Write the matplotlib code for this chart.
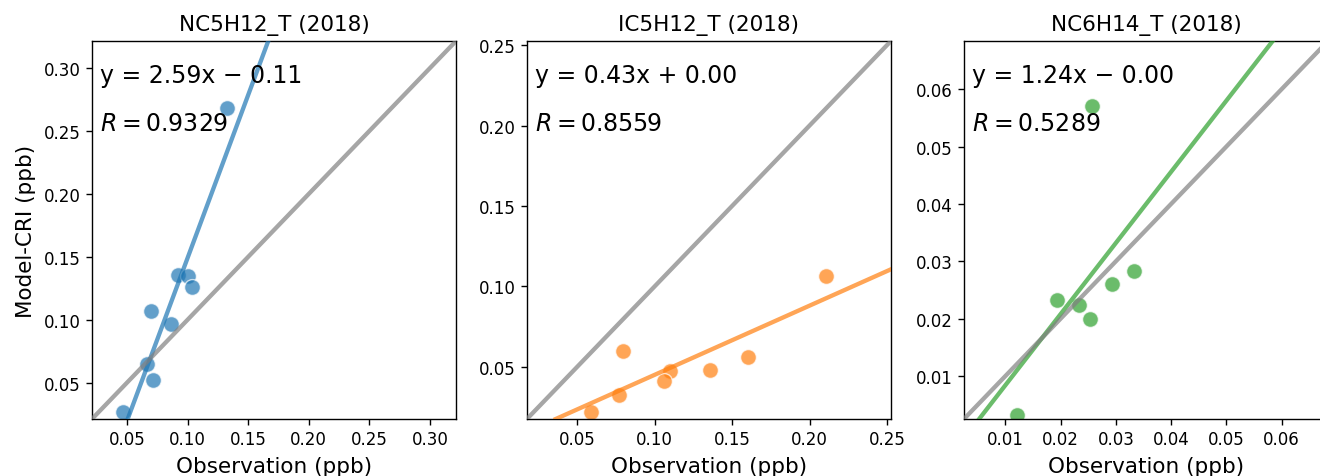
import numpy as np
import matplotlib
matplotlib.use('Agg')
import matplotlib.pyplot as plt

# values
titles = ['NC5H12_T (2018)', 'IC5H12_T (2018)', 'NC6H14_T (2018)']
colors = ['tab:blue', 'tab:orange', 'tab:green']

obs_nc5 = [0.1323, 0.0918, 0.1001, 0.1036, 0.0696, 0.0863, 0.0665, 0.0717, 0.0467]
mod_nc5 = [0.268, 0.136, 0.135, 0.126, 0.1068, 0.0967, 0.065, 0.0525, 0.0265]

obs_ic5 = [0.2105, 0.0798, 0.1603, 0.1357, 0.110, 0.1059, 0.077, 0.0589]
mod_ic5 = [0.1063, 0.0595, 0.0558, 0.0477, 0.0473, 0.0411, 0.0324, 0.0219]

obs_nc6 = [0.0256, 0.0333, 0.0293, 0.0193, 0.0234, 0.0253, 0.0121]
mod_nc6 = [0.057, 0.0283, 0.026, 0.0232, 0.0224, 0.020, 0.00314]

slopes = [2.59, 0.43, 1.24]
intercepts = [-0.110, 0.002, -0.004]
r_values = [0.9329, 0.8559, 0.5289]

obs = [obs_nc5, obs_ic5, obs_nc6]
mod = [mod_nc5, mod_ic5, mod_nc6]

fig = plt.figure(figsize=(13.2, 4.77), dpi=100)
lefts = [0.0697, 0.3992, 0.7303]

for i in range(3):
    ax = fig.add_axes([lefts[i], 0.1195, 0.2758, 0.7925])
    x = np.array(obs[i])
    y = np.array(mod[i])
    lo = min(x.min(), y.min()) * 0.8
    hi = max(x.max(), y.max()) * 1.2

    ax.scatter(x, y, s=130, color=colors[i], alpha=0.7, edgecolor='white', linewidth=1, zorder=2)
    ax.axline((0, intercepts[i]), slope=slopes[i], color=colors[i], alpha=0.7, lw=3.1, zorder=3)
    ax.axline((0, 0), slope=1, color='gray', alpha=0.7, lw=3.1, zorder=3)

    ax.set_xlim(lo, hi)
    ax.set_ylim(lo, hi)

    sign = '+' if intercepts[i] >= 0 else '\u2212'
    ax.text(0.022, 0.91, 'y = %.2fx %s %.2f' % (slopes[i], sign, abs(intercepts[i])),
            transform=ax.transAxes, fontsize=17, va='center')
    ax.text(0.022, 0.783, '$R = %.4f$' % r_values[i], transform=ax.transAxes,
            fontsize=17, va='center')

    ax.set_title(titles[i], fontsize=15.5, pad=8)
    ax.set_xlabel('Observation (ppb)', fontsize=15.5, labelpad=6)
    if i == 0:
        ax.set_ylabel('Model-CRI (ppb)', fontsize=15.5, labelpad=6)
    ax.tick_params(labelsize=12, length=4.5, width=1)
    for sp in ax.spines.values():
        sp.set_linewidth(1)

plt.savefig('out.png', dpi=100)
